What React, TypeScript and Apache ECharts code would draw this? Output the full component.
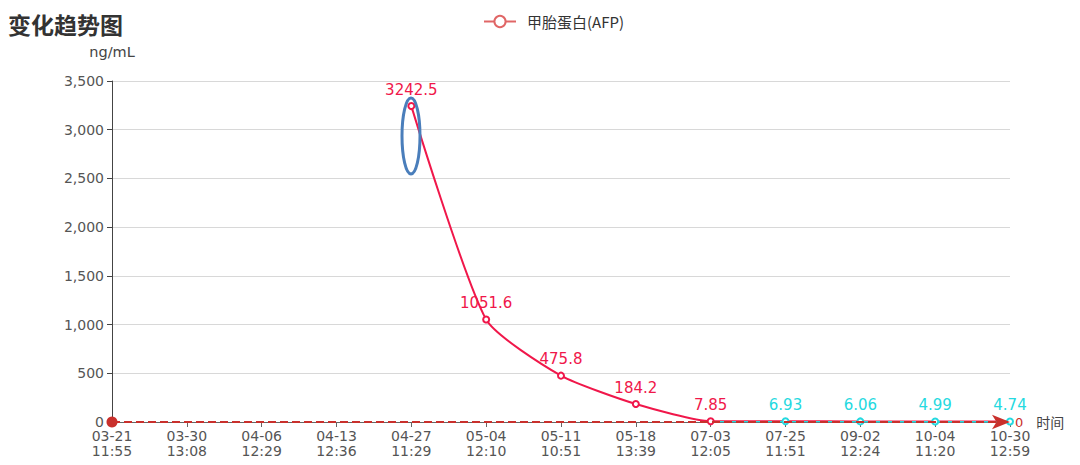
import { useEffect, useRef } from 'react'
import * as echarts from 'echarts'

const categories = [
  '03-21\n11:55', '03-30\n13:08', '04-06\n12:29', '04-13\n12:36', '04-27\n11:29',
  '05-04\n12:10', '05-11\n10:51', '05-18\n13:39', '07-03\n12:05', '07-25\n11:51',
  '09-02\n12:24', '10-04\n11:20', '10-30\n12:59'
]
const afpValues = [null, null, null, null, 3242.5, 1051.6, 475.8, 184.2, 7.85, 6.93, 6.06, 4.99, 4.74]
const yMax = 3500
const yInterval = 500
const normalLimit = 7

const HIGH = '#f0174a'
const NORMAL = '#25d9e0'
const cjk = '"Microsoft YaHei", "Noto Sans CJK SC", sans-serif'
const num = '"DejaVu Sans", "Noto Sans CJK SC", sans-serif'

export default function App() {
  const chartRef = useRef<HTMLDivElement>(null)

  useEffect(() => {
    document.body.style.margin = '0'
    if (!chartRef.current) return
    const chart = echarts.init(chartRef.current, null, { renderer: 'svg' })

    // label colour follows the same threshold as the visualMap
    const seriesData = afpValues.map((v) =>
      v == null ? null : { value: v, label: { color: v > normalLimit ? HIGH : NORMAL } }
    )

    chart.setOption({
      animation: false,
      textStyle: { fontFamily: num },
      title: {
        text: '变化趋势图',
        left: 3,
        top: 7,
        textStyle: { fontSize: 23, fontWeight: 'bold', color: '#333', fontFamily: cjk }
      },
      legend: {
        top: 9,
        left: 478,
        itemWidth: 32,
        itemHeight: 14,
        textStyle: { fontSize: 15, color: '#333', fontFamily: cjk, padding: [0, 0, 0, 6] },
        data: ['甲胎蛋白(AFP)']
      },
      grid: { left: 112, right: 70, top: 81, bottom: 43, containLabel: false },
      visualMap: {
        show: false,
        type: 'piecewise',
        dimension: 1,
        seriesIndex: 0,
        pieces: [
          { gt: normalLimit, lte: 100000, color: HIGH },
          { gte: -100000, lte: normalLimit, color: NORMAL }
        ],
        outOfRange: { color: HIGH }
      },
      xAxis: {
        type: 'category',
        boundaryGap: false,
        data: categories,
        name: '时间',
        nameGap: 8,
        nameTextStyle: { color: '#444', fontSize: 14, fontFamily: cjk },
        axisLine: { lineStyle: { color: '#666' } },
        axisTick: { show: true, alignWithLabel: true, lineStyle: { color: '#666' } },
        axisLabel: { color: '#555', fontSize: 14, lineHeight: 15, interval: 0, margin: 6 }
      },
      yAxis: {
        type: 'value',
        min: 0,
        max: yMax,
        interval: yInterval,
        name: 'ng/mL',
        nameGap: 22,
        nameTextStyle: { color: '#444', fontSize: 14.5 },
        axisLine: { show: true, lineStyle: { color: '#444' } },
        axisTick: { show: true, lineStyle: { color: '#444' } },
        axisLabel: { color: '#555', fontSize: 14, margin: 8 },
        splitLine: { lineStyle: { color: '#d8d8d8' } }
      },
      series: [
        {
          name: '甲胎蛋白(AFP)',
          type: 'line',
          data: seriesData,
          smooth: 0.2,
          symbol: 'emptyCircle',
          symbolSize: 6,
          itemStyle: { color: '#e06666' },
          lineStyle: { width: 2 },
          label: { show: true, position: 'top', fontSize: 15, distance: 5 },
          markLine: {
            silent: true,
            symbol: ['circle', 'arrow'],
            symbolSize: [11, 18],
            lineStyle: { color: '#c9302c', type: 'dashed', width: 2 },
            label: { show: true, position: 'end', formatter: '0', color: '#c9302c', fontSize: 13, distance: 5 },
            data: [
              [
                { xAxis: 0, yAxis: 0 },
                { xAxis: categories.length - 1, yAxis: 0 }
              ]
            ]
          }
        }
      ],
      graphic: [
        {
          type: 'ellipse',
          shape: { cx: 411, cy: 136, rx: 9, ry: 38 },
          style: { fill: 'none', stroke: '#4a7ebb', lineWidth: 3 },
          z: 100
        }
      ]
    })

    return () => chart.dispose()
  }, [])

  return <div ref={chartRef} style={{ width: 1080, height: 465 }} />
}
